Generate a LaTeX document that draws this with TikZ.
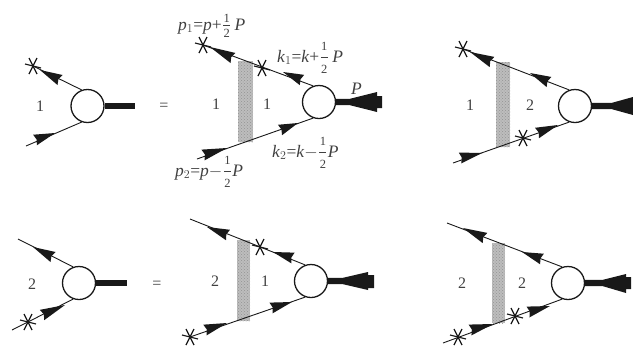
\documentclass[tikz,border=0pt]{standalone}
\usepackage{fontspec}
\setmainfont{Liberation Serif}
\usetikzlibrary{calc,patterns}
\definecolor{ink}{gray}{0.10}
\definecolor{txt}{gray}{0.25}
\tikzset{
  x=1pt,y=-1pt,
  vertexc/.style={circle,draw=ink,line width=1.3pt,fill=white,minimum size=33pt,inner sep=0pt},
  fermion/.style={draw=ink,line width=0.9pt},
  barline/.style={draw=ink,line width=6.5pt},
  shadebox/.style={fill=gray!52},
  starline/.style={draw=ink,line width=1.2pt},
  numlabel/.style={text=txt,font=\fontsize{16}{16}\selectfont,inner sep=0pt},
  kinlabel/.style={text=txt,font=\fontsize{17.5}{17.5}\selectfont,inner sep=0pt,anchor=base west},
  pics/xstar/.style={code={
    \draw[starline] (-8,-2)--(8,2);
    \draw[starline] (-4,-8)--(4,8);
    \draw[starline] (4,-8)--(-4,8);
  }}
}
\newcommand{\ahead}[2]{\fill[ink] #1 -- ($#2!5.6pt!90:#1$) -- ($#2!0.08!#1$) -- ($#2!5.6pt!-90:#1$) -- cycle;}
\newcommand{\shadeit}[4]{\fill[shadebox] (#1,#3) rectangle (#2,#4);\fill[pattern=crosshatch dots,pattern color=gray!85] (#1,#3) rectangle (#2,#4);}
% fraction: argument is the extra gap around the bar
\newcommand{\hlf}[1]{\hspace{1.5pt}$\vcenter{\hbox{\fontsize{12.5}{12.5}\selectfont\shortstack{1\\[#1]\rule{7pt}{0.5pt}\\[#1]2}}}$\hspace{1.5pt}}
\begin{document}
\begin{tikzpicture}
\useasboundingbox (0,0) rectangle (633,349);

% ---------- A
\node[vertexc] (cA) at (87.5,106) {};
\coordinate (aU) at (33,66);
\coordinate (aL) at (26,146);
\coordinate (aO) at (135,106);
\draw[fermion] (aU) -- (cA.110);
\draw[fermion] (aL) -- (cA.250);
\draw[barline] (cA.east) -- (aO);
\ahead{(40,70)}{(60,80)}
\ahead{(55,133)}{(35,140)}
\pic at (aU) {xstar};
\node[numlabel] (lA) at (40,106) {1};
\node[numlabel] (eqA) at (164,107) {=};

% ---------- B
\shadeit{238}{253}{61}{142}
\node[vertexc] (cB) at (319,102) {};
\coordinate (bU) at (203,45);
\coordinate (bL) at (197,159);
\coordinate (bS) at (262,68);
\draw[fermion] (bU) -- (cB.110);
\draw[fermion] (bL) -- (cB.250);
\fill[ink] (cB.east) ++(0,-3.2) -- (350,98.8) -- (377,92) -- (377,96) -- (382,96) -- (382,108) -- (377,108) -- (377,112) -- (350,105.2) -- (336,105.2) -- cycle;
\ahead{(210,47)}{(233,58)}
\ahead{(283,72)}{(302,80)}
\ahead{(227,148)}{(203,155)}
\ahead{(298,123)}{(280,130)}
\pic at (bU) {xstar};
\pic at (bS) {xstar};
\node[numlabel] (lB1) at (216,104) {1};
\node[numlabel] (lB2) at (267,104) {1};
\node[kinlabel] (P) at (351,94) {\textit{P}};
\node[kinlabel] (pone) at (178,30) {\textit{p}$_1$=\textit{p}+\hlf{0pt}\,\textit{P}};
\node[kinlabel] (kone) at (277,62) {\textit{k}$_1$=\textit{k}+\hlf{4pt}\,\textit{P}};
\node[kinlabel] (ktwo) at (272,157) {\textit{k}$_2$=\textit{k}$-$\hlf{4pt}\textit{P}};
\node[kinlabel] (ptwo) at (175,176) {\textit{p}$_2$=\textit{p}$-$\hlf{4pt}\textit{P}};

% ---------- C
\shadeit{496}{510}{62}{147}
\node[vertexc] (cC) at (575,106) {};
\coordinate (cU) at (463,49);
\coordinate (cL) at (453,163);
\coordinate (cS) at (523,138);
\draw[fermion] (cU) -- (cC.110);
\draw[fermion] (cL) -- (cC.250);
\fill[ink] (cC.east) ++(0,-3.2) -- (612,102.8) -- (633,97) -- (633,115) -- (612,109.2) -- (592,109.2) -- cycle;
\ahead{(470,52)}{(492,62)}
\ahead{(530,73)}{(549,82)}
\ahead{(482,153)}{(460,158)}
\ahead{(558,125)}{(537,133)}
\pic at (cU) {xstar};
\pic at (cS) {xstar};
\node[numlabel] (lC1) at (470,105) {1};
\node[numlabel] (lC2) at (530,105) {2};

% ---------- D
\node[vertexc] (cD) at (79,283) {};
\coordinate (dU) at (18,239);
\coordinate (dL) at (12,330);
\coordinate (dO) at (127,283);
\coordinate (dS) at (28,322);
\draw[fermion] (dU) -- (cD.110);
\draw[fermion] (dL) -- (cD.250);
\draw[barline] (cD.east) -- (dO);
\ahead{(33,247)}{(53,257)}
\ahead{(65,305)}{(42,315)}
\pic at (dS) {xstar};
\node[numlabel] (lD) at (32,284) {2};
\node[numlabel] (eqD) at (157,285) {=};

% ---------- E
\shadeit{237}{250}{240}{321}
\node[vertexc] (cE) at (311,281) {};
\coordinate (eU) at (190,219);
\coordinate (eL) at (190,337);
\coordinate (eS) at (260,247);
\draw[fermion] (eU) -- (cE.110);
\draw[fermion] (eL) -- (cE.250);
\fill[ink] (cE.east) ++(0,-3.2) -- (343,277.8) -- (368,272) -- (368,275) -- (374,275) -- (374,288) -- (368,288) -- (368,290) -- (343,284.2) -- (328,284.2) -- cycle;
\ahead{(207,227)}{(228,235)}
\ahead{(273,252)}{(293,258)}
\ahead{(227,323)}{(205,330)}
\ahead{(292,302)}{(271,308)}
\pic at (eS) {xstar};
\pic at (eL) {xstar};
\node[numlabel] (lE1) at (215,281) {2};
\node[numlabel] (lE2) at (265,281) {1};

% ---------- F
\shadeit{492}{505}{243}{323}
\node[vertexc] (cF) at (568,283) {};
\coordinate (fU) at (447,223);
\coordinate (fL) at (443,343);
\coordinate (fS) at (458,337);
\coordinate (fT) at (515,316);
\draw[fermion] (fU) -- (cF.110);
\draw[fermion] (fL) -- (cF.250);
\fill[ink] (cF.east) ++(0,-3.2) -- (603,279.8) -- (626,274) -- (626,277) -- (631,277) -- (631,289) -- (626,289) -- (626,293) -- (603,286.2) -- (585,286.2) -- cycle;
\ahead{(463,228)}{(485,238)}
\ahead{(522,252)}{(542,259)}
\ahead{(493,324)}{(470,330)}
\ahead{(550,306)}{(528,312)}
\pic at (fS) {xstar};
\pic at (fT) {xstar};
\node[numlabel] (lF1) at (462,283) {2};
\node[numlabel] (lF2) at (522,283) {2};
\end{tikzpicture}
\end{document}
